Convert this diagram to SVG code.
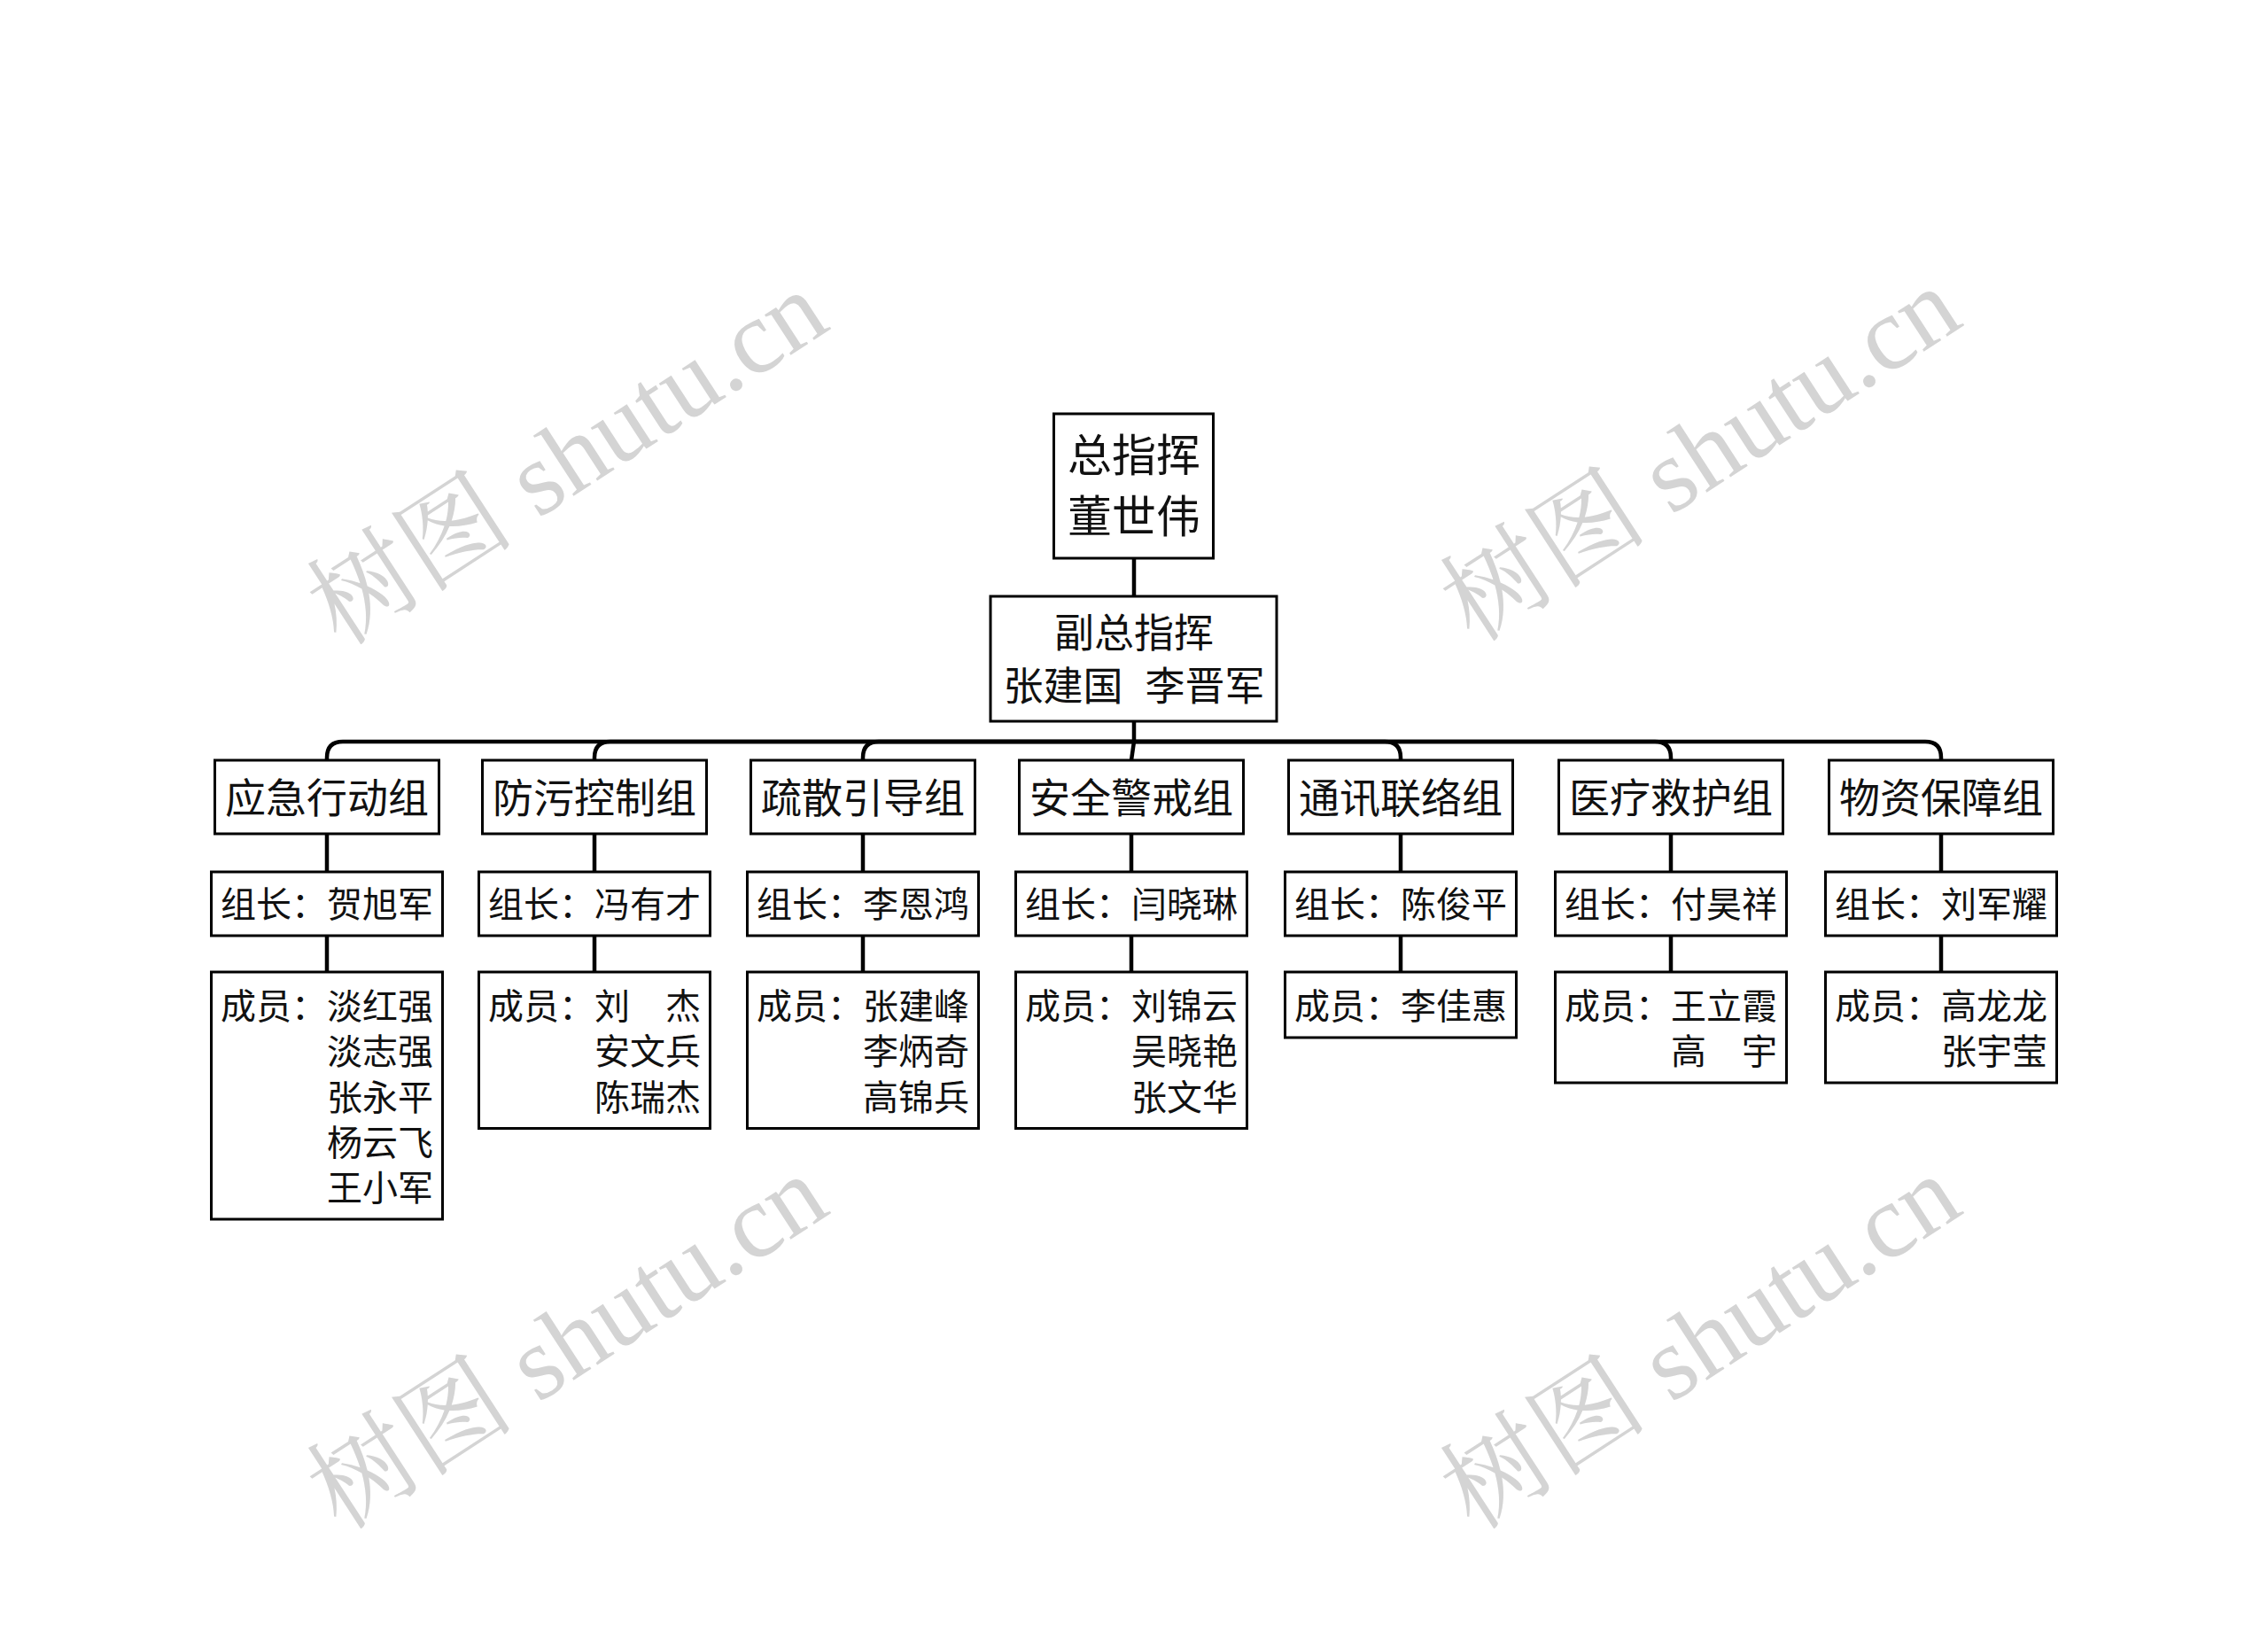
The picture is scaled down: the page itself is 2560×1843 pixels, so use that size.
<svg xmlns="http://www.w3.org/2000/svg" width="2560" height="1843" viewBox="0 0 2560 1843">
<style>
.box{fill:#fff;stroke:#000;stroke-width:3}
.t{font-family:"Noto Sans CJK SC","Noto Sans CJK JP",sans-serif;fill:#111}
.g{font-size:46px;text-anchor:middle}
.l{font-size:40px;text-anchor:middle}
.m{font-size:40px;font-family:"Liberation Sans","Noto Sans CJK SC","Noto Sans CJK JP",sans-serif}
.conn{fill:none;stroke:#000;stroke-width:4.5;stroke-linejoin:round}
.wm{font-family:"Liberation Serif","Noto Serif CJK SC","Noto Sans CJK SC",serif;font-size:118px;fill:#d4d4d4;text-anchor:middle}
</style>
<rect width="2560" height="1843" fill="#fff"/>
<g id="watermarks">
<text class="wm" transform="translate(643,521) rotate(-33)" x="0" y="35">树图 shutu.cn</text>
<text class="wm" transform="translate(1922,517) rotate(-33)" x="0" y="35">树图 shutu.cn</text>
<text class="wm" transform="translate(643,1519) rotate(-33)" x="0" y="35">树图 shutu.cn</text>
<text class="wm" transform="translate(1922,1519) rotate(-33)" x="0" y="35">树图 shutu.cn</text>
</g>
<g id="connectors" class="conn">
<path d="M1280 630 V673"/>
<path d="M1280 814 V837"/>
<path d="M1280 837 H387 Q369 837 369 855 V858"/>
<path d="M1280 837 H689 Q671 837 671 855 V858"/>
<path d="M1280 837 H992 Q974 837 974 855 V858"/>
<path d="M1280 837 L1277 858"/>
<path d="M1280 837 H1563 Q1581 837 1581 855 V858"/>
<path d="M1280 837 H1868 Q1886 837 1886 855 V858"/>
<path d="M1280 837 H2173 Q2191 837 2191 855 V858"/>
<path d="M369 941 V984 M369 1056 V1097"/>
<path d="M671 941 V984 M671 1056 V1097"/>
<path d="M974 941 V984 M974 1056 V1097"/>
<path d="M1277 941 V984 M1277 1056 V1097"/>
<path d="M1581 941 V984 M1581 1056 V1097"/>
<path d="M1886 941 V984 M1886 1056 V1097"/>
<path d="M2191 941 V984 M2191 1056 V1097"/>
</g>
<g id="n-root">
<rect class="box" x="1189.5" y="467" width="180" height="163"/>
<text class="t" style="font-size:50px;text-anchor:middle" x="1280" y="532">总指挥</text>
<text class="t" style="font-size:50px;text-anchor:middle" x="1280" y="601">董世伟</text>
</g>
<g id="n-deputy">
<rect class="box" x="1118" y="673" width="323" height="141"/>
<text class="t" style="font-size:45px;text-anchor:middle" x="1280" y="731">副总指挥</text>
<text class="t" style="font-size:45px;text-anchor:middle;font-family:'Liberation Sans','Noto Sans CJK SC',sans-serif" xml:space="preserve" x="1280" y="791">张建国  李晋军</text>
</g>
<g id="n-g1">
<rect class="box" x="242.5" y="858" width="253" height="83"/>
<text class="t g" x="369" y="917">应急行动组</text>
</g>
<g id="n-g1-leader">
<rect class="box" x="238.5" y="984" width="261" height="72"/>
<text class="t l" x="369" y="1035">组长：贺旭军</text>
</g>
<g id="n-g1-members">
<rect class="box" x="238.5" y="1097" width="261" height="279"/>
<text class="t m" x="249" y="1150">成员：淡红强<tspan x="369" dy="51.25">淡志强</tspan><tspan x="369" dy="51.25">张永平</tspan><tspan x="369" dy="51.25">杨云飞</tspan><tspan x="369" dy="51.25">王小军</tspan></text>
</g>
<g id="n-g2">
<rect class="box" x="544.5" y="858" width="253" height="83"/>
<text class="t g" x="671" y="917">防污控制组</text>
</g>
<g id="n-g2-leader">
<rect class="box" x="540.5" y="984" width="261" height="72"/>
<text class="t l" x="671" y="1035">组长：冯有才</text>
</g>
<g id="n-g2-members">
<rect class="box" x="540.5" y="1097" width="261" height="176.5"/>
<text class="t m" x="551" y="1150">成员：刘　杰<tspan x="671" dy="51.25">安文兵</tspan><tspan x="671" dy="51.25">陈瑞杰</tspan></text>
</g>
<g id="n-g3">
<rect class="box" x="847.5" y="858" width="253" height="83"/>
<text class="t g" x="974" y="917">疏散引导组</text>
</g>
<g id="n-g3-leader">
<rect class="box" x="843.5" y="984" width="261" height="72"/>
<text class="t l" x="974" y="1035">组长：李恩鸿</text>
</g>
<g id="n-g3-members">
<rect class="box" x="843.5" y="1097" width="261" height="176.5"/>
<text class="t m" x="854" y="1150">成员：张建峰<tspan x="974" dy="51.25">李炳奇</tspan><tspan x="974" dy="51.25">高锦兵</tspan></text>
</g>
<g id="n-g4">
<rect class="box" x="1150.5" y="858" width="253" height="83"/>
<text class="t g" x="1277" y="917">安全警戒组</text>
</g>
<g id="n-g4-leader">
<rect class="box" x="1146.5" y="984" width="261" height="72"/>
<text class="t l" x="1277" y="1035">组长：闫晓琳</text>
</g>
<g id="n-g4-members">
<rect class="box" x="1146.5" y="1097" width="261" height="176.5"/>
<text class="t m" x="1157" y="1150">成员：刘锦云<tspan x="1277" dy="51.25">吴晓艳</tspan><tspan x="1277" dy="51.25">张文华</tspan></text>
</g>
<g id="n-g5">
<rect class="box" x="1454.5" y="858" width="253" height="83"/>
<text class="t g" x="1581" y="917">通讯联络组</text>
</g>
<g id="n-g5-leader">
<rect class="box" x="1450.5" y="984" width="261" height="72"/>
<text class="t l" x="1581" y="1035">组长：陈俊平</text>
</g>
<g id="n-g5-members">
<rect class="box" x="1450.5" y="1097" width="261" height="74"/>
<text class="t m" x="1461" y="1150">成员：李佳惠</text>
</g>
<g id="n-g6">
<rect class="box" x="1759.5" y="858" width="253" height="83"/>
<text class="t g" x="1886" y="917">医疗救护组</text>
</g>
<g id="n-g6-leader">
<rect class="box" x="1755.5" y="984" width="261" height="72"/>
<text class="t l" x="1886" y="1035">组长：付昊祥</text>
</g>
<g id="n-g6-members">
<rect class="box" x="1755.5" y="1097" width="261" height="125"/>
<text class="t m" x="1766" y="1150">成员：王立霞<tspan x="1886" dy="51.25">高　宇</tspan></text>
</g>
<g id="n-g7">
<rect class="box" x="2064.5" y="858" width="253" height="83"/>
<text class="t g" x="2191" y="917">物资保障组</text>
</g>
<g id="n-g7-leader">
<rect class="box" x="2060.5" y="984" width="261" height="72"/>
<text class="t l" x="2191" y="1035">组长：刘军耀</text>
</g>
<g id="n-g7-members">
<rect class="box" x="2060.5" y="1097" width="261" height="125"/>
<text class="t m" x="2071" y="1150">成员：高龙龙<tspan x="2191" dy="51.25">张宇莹</tspan></text>
</g>
</svg>
